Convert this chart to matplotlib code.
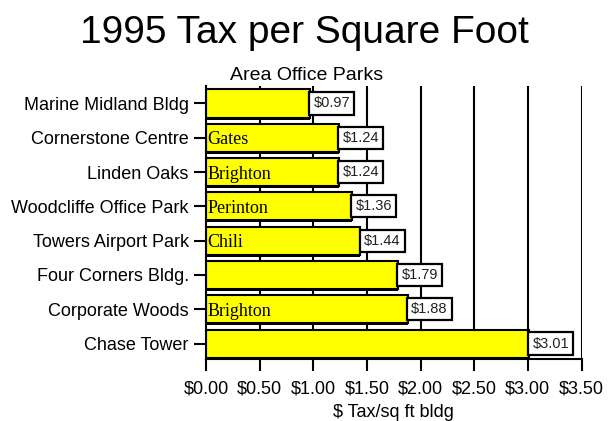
import numpy as np
import matplotlib
matplotlib.use("Agg")
import matplotlib.pyplot as plt
from matplotlib.ticker import FuncFormatter

# =========================
# DATA
# =========================

buildings = ["Marine Midland Bldg", "Cornerstone Centre", "Linden Oaks",
             "Woodcliffe Office Park", "Towers Airport Park", "Four Corners Bldg.",
             "Corporate Woods", "Chase Tower"]
tax = [0.97, 1.24, 1.24, 1.36, 1.44, 1.79, 1.88, 3.01]
towns = ["", "Gates", "Brighton", "Perinton", "Chili", "", "Brighton", ""]
xticks = [0.0, 0.5, 1.0, 1.5, 2.0, 2.5, 3.0, 3.5]

# =========================
# STYLE
# =========================

plt.rcParams["font.family"] = ["Liberation Sans", "DejaVu Sans"]

fig = plt.figure(figsize=(6.1, 4.21), dpi=100)
ax = fig.add_axes([206 / 610, 1 - 359 / 421, 375.5 / 610, 273 / 421])

y = np.arange(len(buildings))

# gridlines behind bars
for xv in xticks[1:]:
    ax.axvline(xv, color="black", lw=1.5, zorder=0)

# shadow, then bars
ax.barh(y + 0.06, tax, height=0.82, color="black", zorder=1)
ax.barh(y, tax, height=0.82, color="#FFFF00", edgecolor="black", lw=1.5, zorder=2)

# value boxes
for yi, v in zip(y, tax):
    ax.annotate(f"${v:.2f}", xy=(v, yi), xytext=(2.5, 0), textcoords="offset points",
                ha="left", va="center", fontsize=10.5, color="#222222", zorder=4,
                bbox=dict(boxstyle="square,pad=0.28", fc="white", ec="black", lw=1.6))

# town labels inside bars
for yi, t in zip(y, towns):
    if t:
        ax.text(0.01, yi + 0.06, t, ha="left", va="center", fontsize=13,
                family=["Liberation Serif", "DejaVu Serif"], zorder=3)

# =========================
# AXES
# =========================

ax.set_xlim(0, 3.5)
ax.set_ylim(7.45, -0.51)
ax.set_xticks(xticks)
ax.xaxis.set_major_formatter(FuncFormatter(lambda v, p: f"${v:.2f}"))
ax.set_yticks(y)
ax.set_yticklabels(buildings)
ax.tick_params(axis="both", length=8.5, width=1.5, labelsize=13, direction="out")
ax.tick_params(axis="y", pad=4)
ax.tick_params(axis="x", pad=7)
ax.set_xlabel("$ Tax/sq ft bldg", fontsize=13, labelpad=5)

ax.spines["top"].set_visible(False)
ax.spines["right"].set_visible(False)
ax.spines["left"].set_linewidth(1.5)
ax.spines["bottom"].set_linewidth(1.5)
ax.spines["left"].set_zorder(5)

# Titles
fig.text(0.499, 1 - 43 / 421, "1995 Tax per Square Foot", ha="center", va="baseline",
         fontsize=28)
fig.text(0.502, 1 - 80 / 421, "Area Office Parks", ha="center", va="baseline",
         fontsize=14)

fig.savefig("out.png", dpi=100)
